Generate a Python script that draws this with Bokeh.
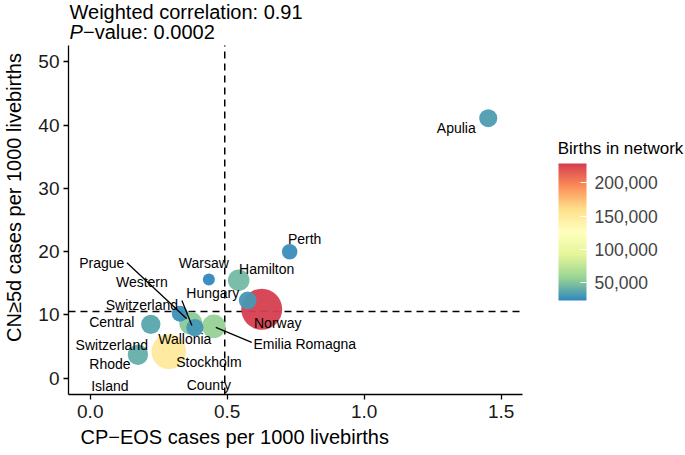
import numpy as np
from bokeh.plotting import figure
from bokeh.models import (ColumnDataSource, LinearColorMapper, ColorBar, FixedTicker,
                          NumeralTickFormatter, Range1d, Title)
from bokeh.transform import transform
from bokeh.core.properties import value
from bokeh.embed import file_html
from bokeh.resources import INLINE

# ---- data ----
networks = ["Norway", "Stockholm County", "Emilia Romagna", "Wallonia", "Hamilton",
            "Rhode Island", "Central Switzerland", "Apulia", "Hungary",
            "Western Switzerland", "Prague", "Perth", "Warsaw"]
cp_eos = [0.626, 0.287, 0.451, 0.367, 0.542, 0.174, 0.221, 1.453, 0.575, 0.382, 0.327, 0.728, 0.433]
cn5d = [10.9, 4.2, 8.2, 8.7, 15.5, 3.7, 8.5, 41.1, 12.3, 8.0, 10.2, 20.0, 15.6]
births = [229000, 150000, 56000, 52000, 45000, 40000, 36000, 32000, 31000, 30000, 27000, 26000, 23000]
point_labels = ["Norway", "Stockholm\nCounty", "Emilia Romagna", "Wallonia", "Hamilton",
                "Rhode\nIsland", "Central\nSwitzerland", "Apulia", "Hungary",
                "Western\nSwitzerland", "Prague", "Perth", "Warsaw"]
cp_eos_ref = 0.491
cn5d_ref = 10.55
x_ticks = [0.0, 0.5, 1.0, 1.5]
y_ticks = [0, 10, 20, 30, 40, 50]
legend_ticks = [50000, 100000, 150000, 200000]

# ---- label placement (screen px offsets, style only) ----
lab_dx = [16, 40, 91, -6, 28, -28, -39, -32, -35, -53, -78, 15, -5]
lab_dy = [14, 22, 18, 16, -11, 20, 9, 10, -7, -34, -51, -13, -17]
seg_names = ["Prague", "Western Switzerland", "Emilia Romagna"]
seg_off = {"Prague": (-53, -51, 7, 5),
           "Western Switzerland": (-13, -27, -3, -2),
           "Emilia Romagna": (2, 1, 38, 16)}

FONT = "Liberation Sans"
W, H = 685, 455
LEFT, TOP, FW, FH = 67, 45, 455, 349          # visible panel (axes extent)
x_ax = (-0.0794, 1.579)                         # axis extent in data units
y_ax = (-2.58, 52.6)
pxx = FW / (x_ax[1] - x_ax[0])
pxy = FH / (y_ax[1] - y_ax[0])
# the frame is extended to the canvas top/right so that annotations are not clipped
x_rng = (x_ax[0], x_ax[0] + (W - LEFT) / pxx)
y_rng = (y_ax[0], y_ax[1] + TOP / pxy)

def sx_to_x(px):
    return x_ax[0] + (px - LEFT) / pxx

def sy_to_y(py):
    return y_ax[1] - (py - TOP) / pxy

# palette: Spectral (7) reversed, interpolated
spec = ["#3288BD", "#99D594", "#E6F598", "#FFFFBF", "#FEE08B", "#FC8D59", "#D53E4F"]
def h2rgb(h):
    return np.array([int(h[i:i + 2], 16) for i in (1, 3, 5)], dtype=float)
stops = np.linspace(0, 1, len(spec))
cols = np.array([h2rgb(c) for c in spec])
palette = []
for t in np.linspace(0, 1, 256):
    rgb = [np.interp(t, stops, cols[:, k]) for k in range(3)]
    palette.append("#%02x%02x%02x" % tuple(int(round(v)) for v in rgb))

bmin, bmax = min(births), max(births)
mapper = LinearColorMapper(palette=palette, low=bmin, high=bmax)
sizes = [6.2 + 5.8 * (1 + 5 * np.sqrt((b - bmin) / (bmax - bmin))) for b in births]

src = ColumnDataSource(dict(x=cp_eos, y=cn5d, births=births, size=sizes,
                            label=point_labels, dx=lab_dx, dy=lab_dy))

p = figure(width=W, height=H, output_backend="svg", toolbar_location=None,
           x_range=Range1d(*x_rng), y_range=Range1d(*y_rng),
           min_border_left=LEFT, min_border_top=0,
           min_border_right=0, min_border_bottom=H - TOP - FH)
p.outline_line_color = None
p.grid.visible = False
p.background_fill_color = "white"

# reference lines (limited to the axes extent)
p.segment([cp_eos_ref], [y_ax[0]], [cp_eos_ref], [y_ax[1]], line_color="black",
          line_dash="7 5", line_width=1.5)
p.segment([x_ax[0]], [cn5d_ref], [x_ax[1]], [cn5d_ref], line_color="black",
          line_dash="7 5", line_width=1.5)

p.scatter("x", "y", size="size", source=src, fill_color=transform("births", mapper),
          fill_alpha=0.95, line_color=None)

# leader segments
sx0, sy0, sx1, sy1 = [], [], [], []
for n in seg_names:
    i = networks.index(n)
    a, b, c, d = seg_off[n]
    sx0.append(cp_eos[i] + a / pxx); sy0.append(cn5d[i] - b / pxy)
    sx1.append(cp_eos[i] + c / pxx); sy1.append(cn5d[i] - d / pxy)
p.segment(sx0, sy0, sx1, sy1, line_color="black", line_width=1.3)

p.text("x", "y", text="label", x_offset="dx", y_offset="dy", source=src,
       text_align="center", text_baseline="middle", text_font=value(FONT),
       text_font_size="14px", text_color="black", text_line_height=1.4)

# top annotation
p.text([sx_to_x(68)], [sy_to_y(11)], text=["Weighted correlation: 0.91"],
       text_font=value(FONT), text_font_size="20px", text_baseline="middle",
       text_align="left", text_color="black")
p.text([sx_to_x(68)], [sy_to_y(31)], text=["P"], text_font=value(FONT),
       text_font_style="italic", text_font_size="20px", text_baseline="middle",
       text_align="left", text_color="black")
p.text([sx_to_x(81.5)], [sy_to_y(31)], text=["\u2212value: 0.0002"],
       text_font=value(FONT), text_font_size="20px", text_baseline="middle",
       text_align="left", text_color="black")

# legend title
p.text([sx_to_x(557)], [sy_to_y(148)], text=["Births in network"],
       text_font=value(FONT), text_font_size="17px", text_baseline="middle",
       text_align="left", text_color="black")

# axes
for ax in (p.xaxis, p.yaxis):
    ax.axis_line_color = "black"
    ax.axis_line_width = 1.3
    ax.major_tick_line_color = "black"
    ax.major_tick_line_width = 1.3
    ax.major_tick_out = 5
    ax.major_tick_in = 0
    ax.minor_tick_line_color = None
    ax.major_label_text_font = FONT
    ax.major_label_text_font_size = "19px"
    ax.major_label_text_color = "#1a1a1a"
    ax.axis_label_text_font = FONT
    ax.axis_label_text_font_size = "20px"
    ax.axis_label_text_font_style = "normal"
    ax.axis_label_text_color = "black"
p.xaxis.bounds = x_ax
p.yaxis.bounds = y_ax
p.xaxis.ticker = FixedTicker(ticks=x_ticks)
p.xaxis.formatter = NumeralTickFormatter(format="0.0")
p.yaxis.ticker = FixedTicker(ticks=y_ticks)
p.yaxis.axis_label = "CN\u22655d cases per 1000 livebirths"
p.xaxis.major_label_standoff = 5
p.yaxis.major_label_standoff = 4
p.yaxis.axis_label_standoff = 10

# x-axis title placed under the visible panel (the frame itself is wider)
p.add_layout(Title(text="CP\u2212EOS cases per 1000 livebirths", align="left",
                   offset=12, standoff=6, text_font=FONT, text_font_size="20px",
                   text_font_style="normal", text_color="black"), "below")

cb = ColorBar(color_mapper=mapper, width=28, height=137, location=(490, 94),
              padding=0, margin=0,
              ticker=FixedTicker(ticks=legend_ticks),
              formatter=NumeralTickFormatter(format="0,0"),
              major_label_text_font=FONT, major_label_text_font_size="17.5px",
              label_standoff=8, major_tick_line_color="white", major_tick_in=6,
              major_tick_out=0, minor_tick_line_color=None, bar_line_color=None,
              background_fill_alpha=0, border_line_color=None)
p.add_layout(cb, "center")

open("out.html", "w").write(file_html(p, INLINE))
